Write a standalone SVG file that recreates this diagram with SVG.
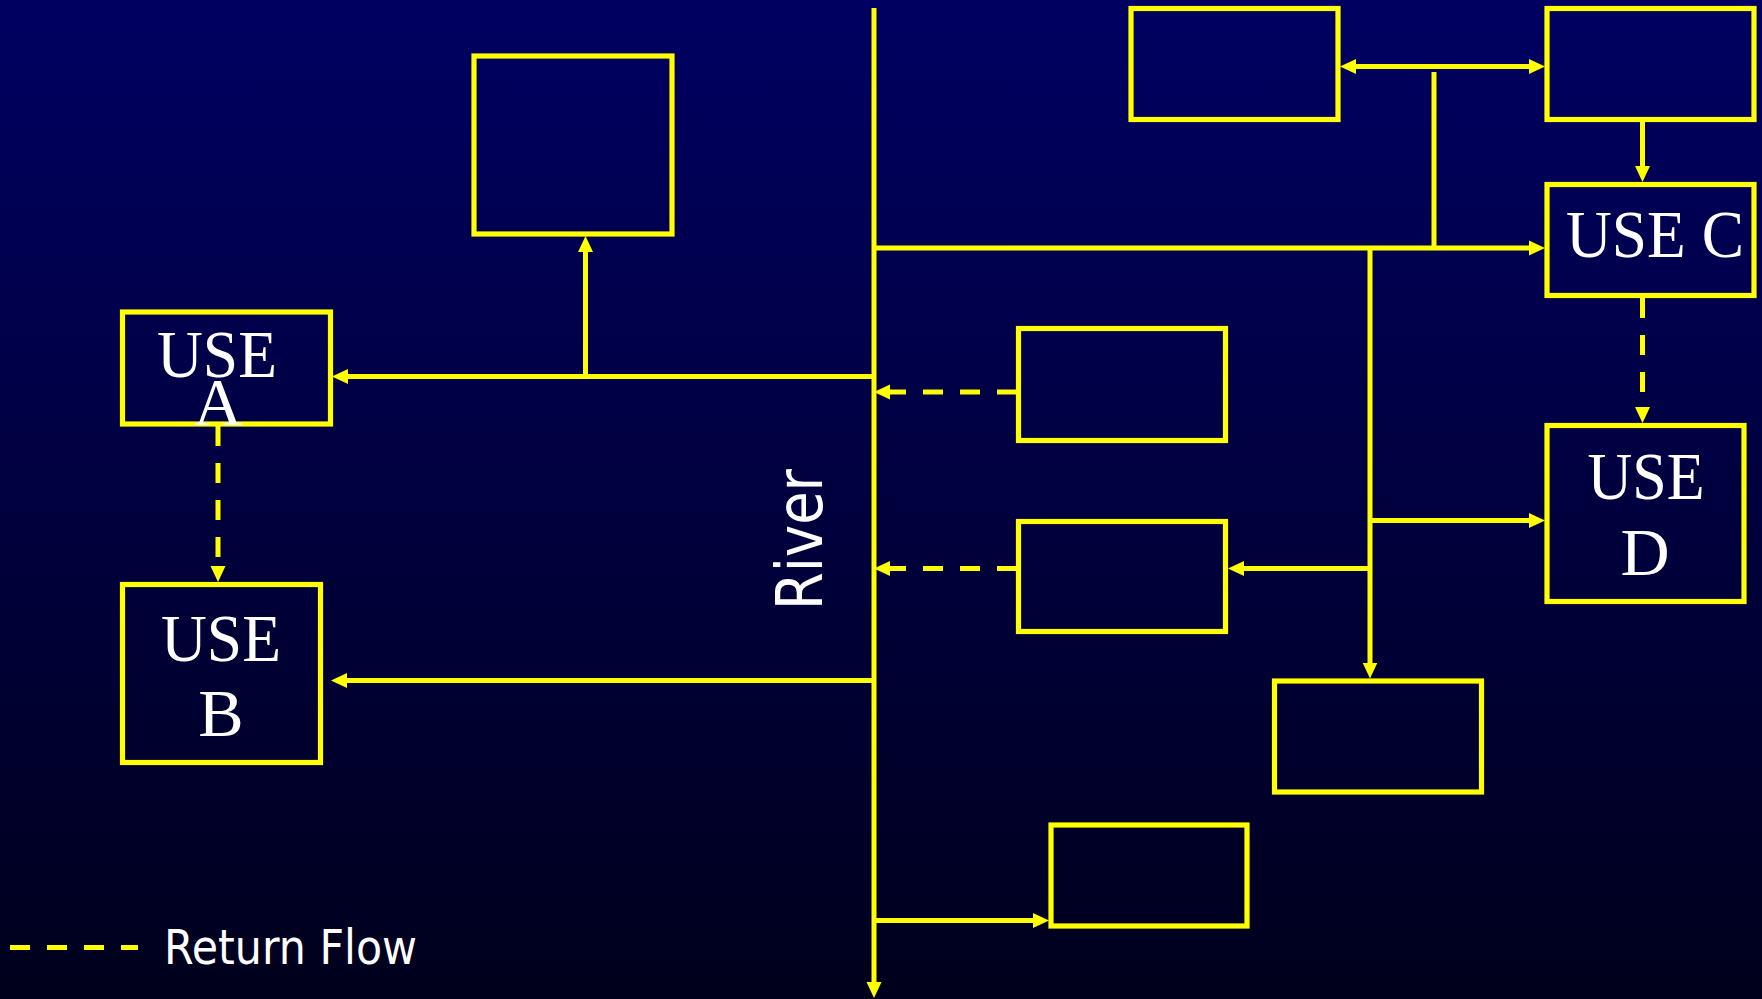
<svg xmlns="http://www.w3.org/2000/svg" width="1762" height="999" viewBox="0 0 1762 999">
<defs>
<linearGradient id="bg" x1="0" y1="0" x2="0" y2="1">
<stop offset="0" stop-color="#000062"/>
<stop offset="1" stop-color="#00001c"/>
</linearGradient>
<marker id="ah" markerUnits="userSpaceOnUse" markerWidth="17" markerHeight="16" refX="5" refY="7.5" orient="auto" viewBox="0 0 17 15">
<path d="M0,0 L16,7.5 L0,15 z" fill="#ffff00"/>
</marker>
<style>
.box{fill:none;stroke:#ffff00;stroke-width:5.2}
.ln{fill:none;stroke:#ffff00;stroke-width:5}
.dash{stroke-dasharray:20 17}
.arr{marker-end:url(#ah)}
.lbl{font-family:"Liberation Serif","Times New Roman",serif;font-size:68px;fill:#ffffff;text-anchor:middle}
.sans{font-family:"DejaVu Sans","Liberation Sans",sans-serif;fill:#ffffff}
</style>
</defs>
<rect x="0" y="0" width="1762" height="999" fill="url(#bg)"/>

<g id="connectors">
<line class="ln arr" x1="874" y1="8" x2="874" y2="987"/>
<line class="ln arr" x1="874" y1="376.5" x2="343" y2="376.5"/>
<line class="ln arr" x1="585.5" y1="376.5" x2="585.5" y2="247"/>
<line class="ln arr" x1="874" y1="248" x2="1534" y2="248"/>
<line class="ln" x1="1434" y1="72" x2="1434" y2="248"/>
<line class="ln" x1="1360" y1="66.5" x2="1525" y2="66.5"/>
<line class="ln arr" x1="1434" y1="66.5" x2="1534" y2="66.5"/>
<line class="ln arr" x1="1434" y1="66.5" x2="1351" y2="66.5"/>
<line class="ln arr" x1="1642.5" y1="122" x2="1642.5" y2="171"/>
<line class="ln dash arr" x1="1642.5" y1="298" x2="1642.5" y2="412"/>
<line class="ln arr" x1="1370" y1="248" x2="1370" y2="667.5"/>
<line class="ln arr" x1="1370" y1="520.5" x2="1534" y2="520.5"/>
<line class="ln arr" x1="1370" y1="568.5" x2="1239" y2="568.5"/>
<line class="ln dash arr" x1="1017" y1="392" x2="885" y2="392"/>
<line class="ln dash arr" x1="1017" y1="568.5" x2="885" y2="568.5"/>
<line class="ln dash arr" x1="218" y1="426" x2="218" y2="571"/>
<line class="ln arr" x1="874" y1="680.5" x2="342" y2="680.5"/>
<line class="ln arr" x1="874" y1="920.5" x2="1038" y2="920.5"/>
</g>

<g id="node-top-center"><rect class="box" x="474" y="56" width="198" height="178"/></g>
<g id="node-use-a">
<rect class="box" x="122.5" y="312" width="208" height="112"/>
<text class="lbl"><tspan x="217" y="377" textLength="120" lengthAdjust="spacingAndGlyphs">USE</tspan><tspan x="218" y="425">A</tspan></text>
</g>
<g id="node-use-b">
<rect class="box" x="122.5" y="584.5" width="198" height="178"/>
<text class="lbl"><tspan x="221" y="661" textLength="120" lengthAdjust="spacingAndGlyphs">USE</tspan><tspan x="221" y="736">B</tspan></text>
</g>
<g id="node-top-1"><rect class="box" x="1131" y="8.5" width="207" height="111"/></g>
<g id="node-top-2"><rect class="box" x="1547" y="8.5" width="207" height="111"/></g>
<g id="node-use-c">
<rect class="box" x="1547" y="184.5" width="207" height="111"/>
<text class="lbl" x="1655" y="257" textLength="178" lengthAdjust="spacingAndGlyphs">USE C</text>
</g>
<g id="node-use-d">
<rect class="box" x="1547" y="425.5" width="197" height="176"/>
<text class="lbl"><tspan x="1646" y="499" textLength="117" lengthAdjust="spacingAndGlyphs">USE</tspan><tspan x="1645" y="575">D</tspan></text>
</g>
<g id="node-mid-1"><rect class="box" x="1018.5" y="328.5" width="207" height="112"/></g>
<g id="node-mid-2"><rect class="box" x="1018.5" y="521.5" width="207" height="110"/></g>
<g id="node-mid-3"><rect class="box" x="1274.5" y="681" width="207" height="111"/></g>
<g id="node-bottom"><rect class="box" x="1051" y="825" width="196" height="101"/></g>

<g id="river-label">
<text class="sans" font-size="64" transform="translate(822,610) rotate(-90)" textLength="141" lengthAdjust="spacingAndGlyphs">River</text>
</g>
<g id="legend">
<line class="ln dash" x1="10" y1="947.5" x2="138" y2="947.5"/>
<text class="sans" font-size="48" x="164" y="964" textLength="253" lengthAdjust="spacingAndGlyphs">Return Flow</text>
</g>
</svg>
